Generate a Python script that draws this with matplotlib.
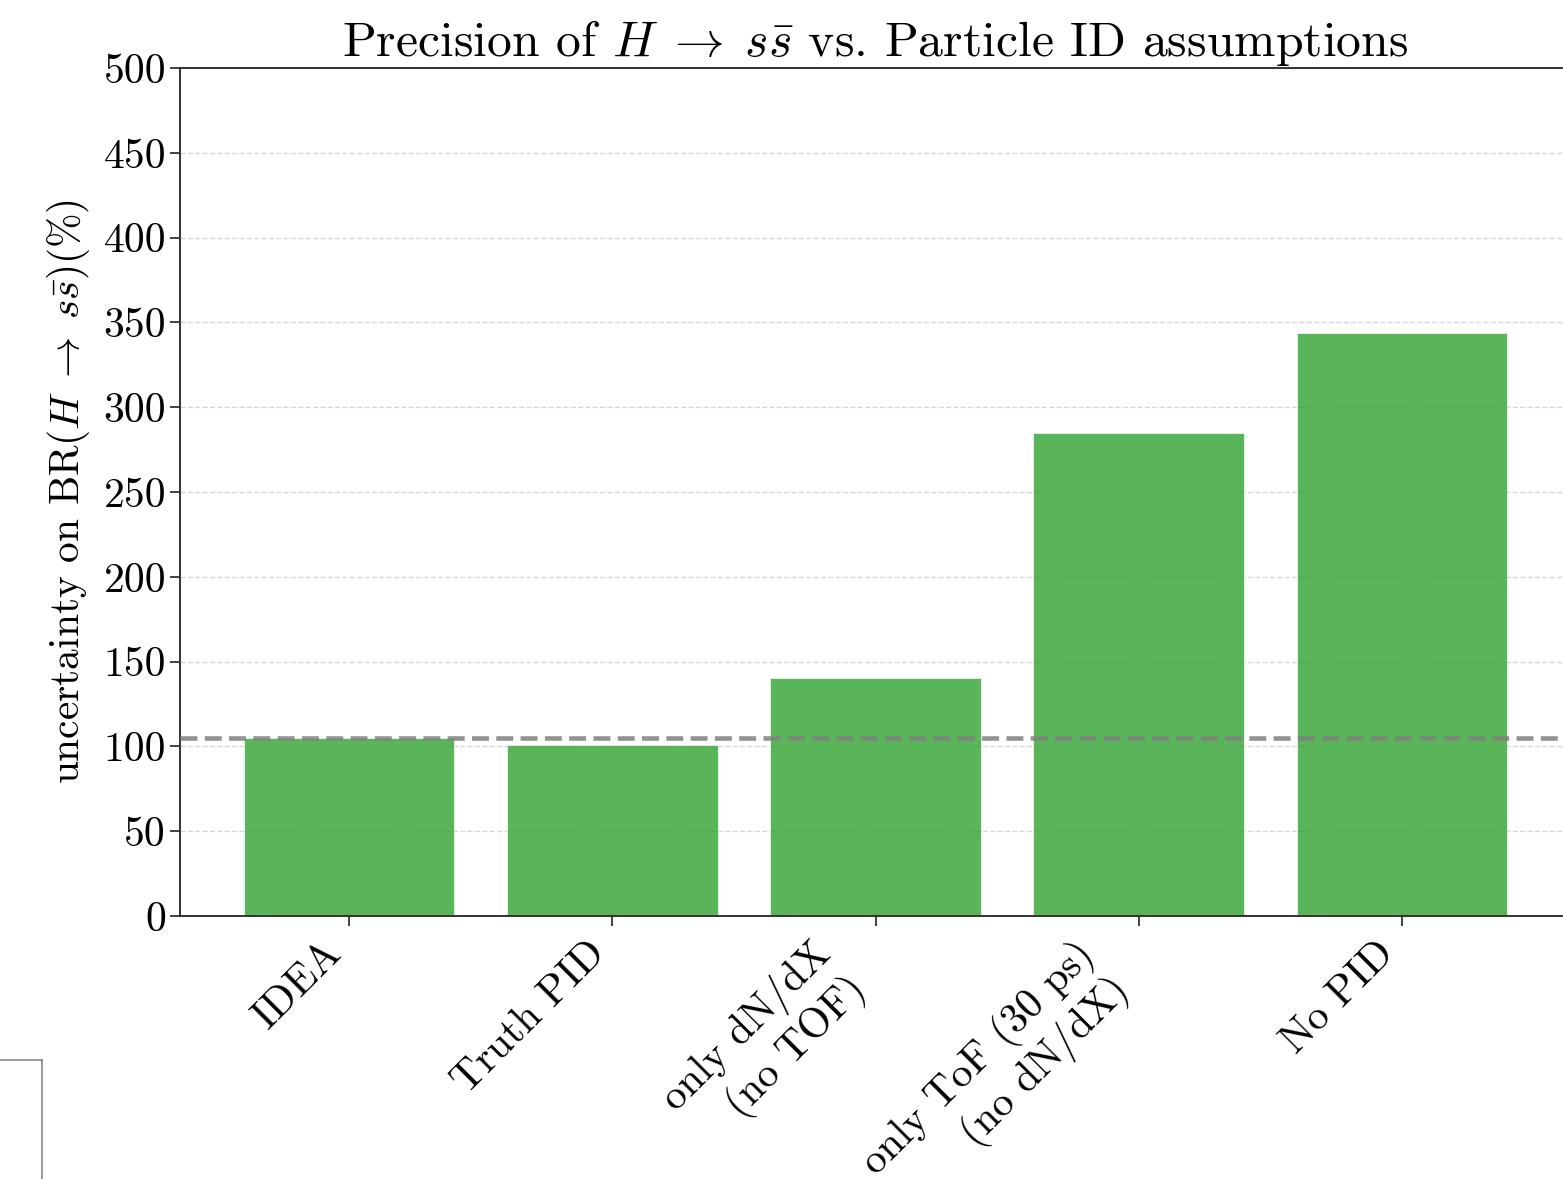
import matplotlib
matplotlib.use("Agg")
import matplotlib.pyplot as plt
from matplotlib.lines import Line2D

categories = ["IDEA", "Truth PID", "only dN/dX\n(no TOF)", "only ToF (30 ps)\n(no dN/dX)", "No PID"]
values = [104.7, 101.0, 140.5, 285.0, 343.5]
reference = 104.7
yticks = [0, 50, 100, 150, 200, 250, 300, 350, 400, 450, 500]

plt.rcParams['font.family'] = 'serif'
plt.rcParams['font.serif'] = ['cmr10']
plt.rcParams['mathtext.fontset'] = 'cm'
plt.rcParams['axes.unicode_minus'] = False
plt.rcParams['axes.formatter.use_mathtext'] = True

fig = plt.figure(figsize=(15.63, 11.79), dpi=100)
ax = fig.add_axes([180/1563, 263/1179, (1571-180)/1563, (916-68)/1179])

x = list(range(len(categories)))
ax.bar(x, values, width=0.8, color='#2ca02c', alpha=0.78, edgecolor='white', linewidth=0.6, zorder=2)
ax.axhline(reference, color='gray', linestyle='--', linewidth=3.3, alpha=0.85, zorder=3)
ax.yaxis.grid(True, linestyle='--', color='#cccccc', alpha=0.8, linewidth=1, zorder=1)
ax.set_axisbelow(True)

ax.set_ylim(0, 500)
ax.set_xlim(-0.643, 4.643)
ax.set_yticks(yticks)
ax.set_yticklabels([str(t) for t in yticks])
ax.set_xticks(x)
ax.set_xticklabels(categories, rotation=45, ha='right', multialignment='right')
ax.tick_params(axis='both', labelsize=30, length=7, width=1.3, color='#333333')
ax.tick_params(axis='x', pad=6)
ax.tick_params(axis='y', pad=3)
for s in ax.spines.values():
    s.set_linewidth(1.4)
    s.set_color('#333333')

ax.set_ylabel(r"uncertainty on BR$(H \;\rightarrow\; s\bar{s})(\%)$", fontsize=29.8, labelpad=8)
ax.set_title(r"Precision of $H \;\rightarrow\; s\bar{s}$ vs. Particle ID assumptions", fontsize=35.8, pad=3)

fig.add_artist(Line2D([0, 42/1563], [1-1060/1179, 1-1060/1179], transform=fig.transFigure, color='#888888', linewidth=1.2))
fig.add_artist(Line2D([42/1563, 42/1563], [1-1060/1179, 0], transform=fig.transFigure, color='#888888', linewidth=1.2))

fig.savefig("out.png", dpi=100)
